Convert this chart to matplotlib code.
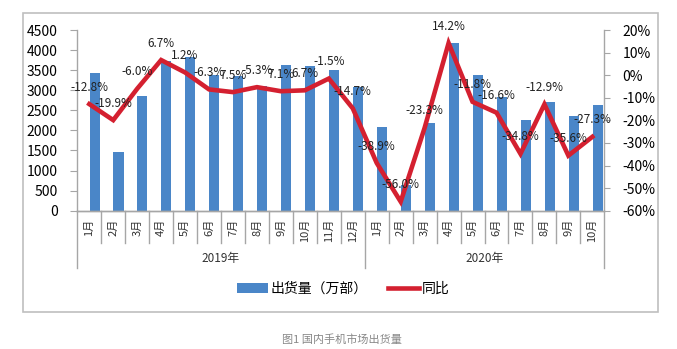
import matplotlib
matplotlib.use("Agg")
import matplotlib.pyplot as plt
import matplotlib.transforms as mtransforms
from matplotlib.patches import Patch, Rectangle
from matplotlib.lines import Line2D

plt.rcParams['font.family'] = ['Noto Sans CJK SC', 'DejaVu Sans']

months = ["1月", "2月", "3月", "4月", "5月", "6月", "7月", "8月", "9月", "10月", "11月", "12月",
          "1月", "2月", "3月", "4月", "5月", "6月", "7月", "8月", "9月", "10月"]
years = ["2019年", "2020年"]
year_counts = [12, 10]
shipments = [3430, 1465, 2850, 3720, 3835, 3390, 3350, 3100, 3640, 3600, 3500, 3080,
             2085, 640, 2180, 4175, 3390, 2830, 2250, 2710, 2350, 2635]
yoy = [-12.8, -19.9, -6.0, 6.7, 1.2, -6.3, -7.5, -5.3, -7.1, -6.7, -1.5, -14.7,
       -38.9, -56.0, -23.3, 14.2, -11.8, -16.6, -34.8, -12.9, -35.6, -27.3]
yoy_labels = ["-12.8%", "-19.9%", "-6.0%", "6.7%", "1.2%", "-6.3%", "7.5%", "-5.3%", "7.1%", "6.7%", "-1.5%", "-14.7%",
              "-38.9%", "-56.0%", "-23.3%", "14.2%", "-11.8%", "-16.6%", "-34.8%", "-12.9%", "-35.6%", "-27.3%"]

W, H = 677, 349
fig = plt.figure(figsize=(W / 100, H / 100), dpi=100)
fig.patch.set_facecolor('white')

left, right = 77.3 / W, 604.3 / W
bottom, top = 1 - 210.7 / H, 1 - 30 / H
ax = fig.add_axes([left, bottom, right - left, top - bottom])
ax2 = ax.twinx()

n = len(months)
x = list(range(n))
bar_color = '#4A86C8'
line_color = '#D42030'
axis_color = '#A6A6A6'

ax.bar([i + 0.22 for i in x], shipments, width=0.42, color=bar_color, zorder=2)
ax.set_xlim(-0.5, n - 0.5)
ax.set_ylim(0, 4500)
ax.set_yticks(range(0, 4501, 500))
ax.tick_params(axis='y', direction='out', length=5, color=axis_color, labelsize=10, pad=9)
ax.set_xticks([])

ax2.plot(x, yoy, color=line_color, lw=3.3, solid_joinstyle='miter', zorder=3)
ax2.set_ylim(-60, 20)
ax2.set_yticks(range(-60, 21, 10))
ax2.set_yticklabels([f"{v}%" for v in range(-60, 21, 10)])
ax2.tick_params(axis='y', direction='out', length=4, color=axis_color, labelsize=10, pad=9)

for a in (ax, ax2):
    a.spines['top'].set_visible(False)
    for s in ('left', 'right', 'bottom'):
        a.spines[s].set_color(axis_color)
        a.spines[s].set_linewidth(1.0)
ax.spines['right'].set_visible(False)
ax2.spines['left'].set_visible(False)
ax.patch.set_visible(False)

for i, lab in enumerate(yoy_labels):
    ax2.annotate(lab, (x[i], yoy[i]), xytext=(0, 17), textcoords='offset pixels',
                 ha='center', va='center', fontsize=8.5, color='#222222', zorder=5)

# category axis: separators, month labels, year labels
ax_h = 210.7 - 30
trans = mtransforms.blended_transform_factory(ax.transData, ax.transAxes)
short = 32 / ax_h
long_ = 57 / ax_h
group_bounds = [-0.5]
acc = -0.5
for c in year_counts:
    acc += c
    group_bounds.append(acc)
for i in range(n - 1):
    b = i + 0.5
    if b in group_bounds:
        continue
    ax.plot([b, b], [0, -short], transform=trans, color=axis_color, lw=1.0, clip_on=False)
for b in group_bounds:
    ax.plot([b, b], [0, -long_], transform=trans, color=axis_color, lw=1.0, clip_on=False)
for i, m in enumerate(months):
    ax.text(i, -8 / ax_h, m, transform=trans, rotation=90, ha='center', va='top',
            fontsize=8, color='#333333')
for k, yl in enumerate(years):
    cx = (group_bounds[k] + group_bounds[k + 1]) / 2
    ax.text(cx, -48 / ax_h, yl, transform=trans, ha='center', va='center', fontsize=8.5, color='#333333')

# legend
handles = [Patch(facecolor=bar_color, edgecolor='none'),
           Line2D([0], [0], color=line_color, lw=3.3)]
fig.legend(handles, ["出货量（万部）", "同比"], loc='center', bbox_to_anchor=(0.507, 1 - 289 / H),
           ncol=2, frameon=False, fontsize=10, handlelength=2.2, handleheight=0.7,
           handletextpad=0.2, columnspacing=1.5)

# outer frame
fig.patches.append(Rectangle((23 / W, 1 - 312 / H), (658 - 23) / W, (312 - 13) / H,
                             transform=fig.transFigure, fill=False, edgecolor='#BFBFBF', lw=1.2))

fig.text(342 / W, 1 - 340 / H, "图1 国内手机市场出货量", ha='center', va='center', fontsize=8, color='#888888')

fig.savefig("out.png", dpi=100)
